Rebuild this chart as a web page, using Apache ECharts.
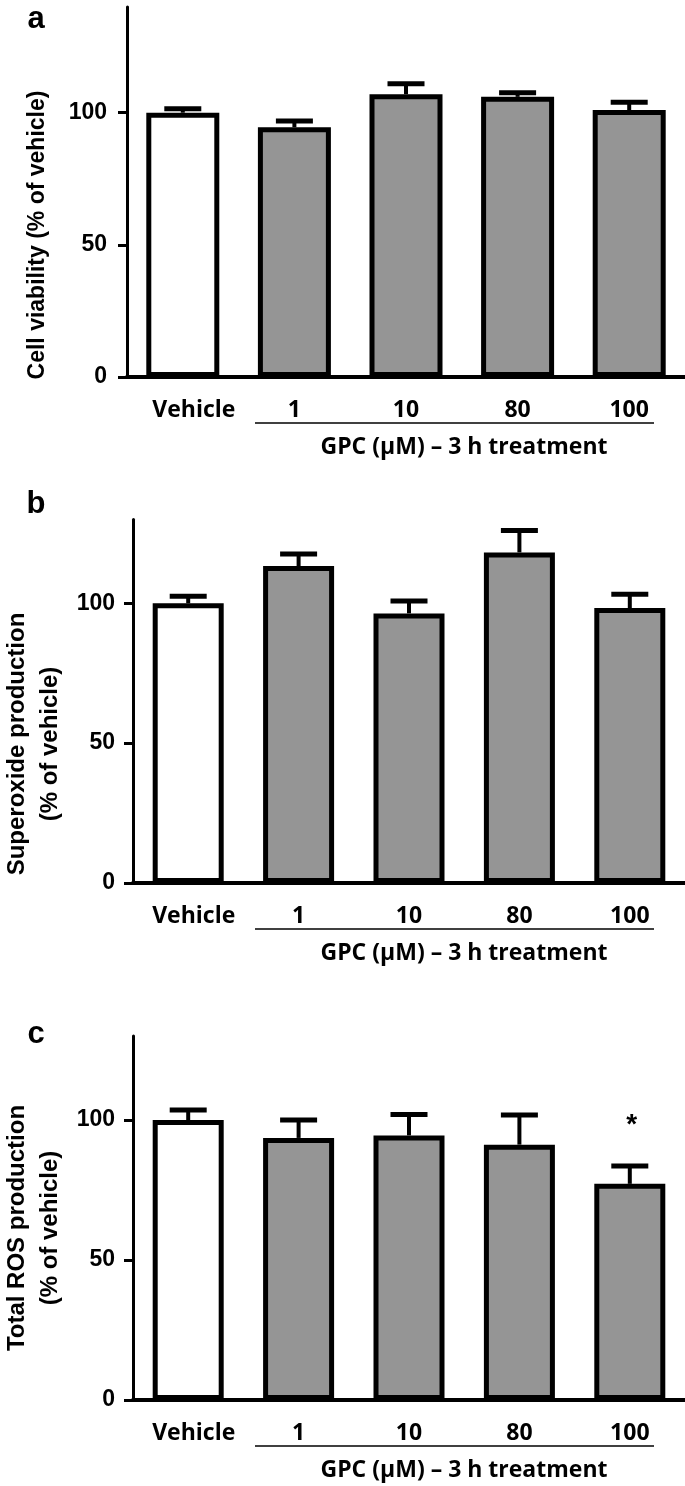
<!DOCTYPE html>
<html>
<head>
<meta charset="utf-8">
<script src="https://cdn.jsdelivr.net/npm/echarts@6/dist/echarts.min.js"></script>
<style>
  html, body { margin: 0; padding: 0; background: #fff; }
  #chart { width: 685px; height: 1486px; }
</style>
</head>
<body>
<div id="chart"></div>
<script>
// ---- data ----
const categories = ['Vehicle', '1', '10', '80', '100'];
const viabilityMean = [100, 94.5, 107, 106, 101];
const viabilityErr = [1.5, 2.4, 4, 1.6, 3];
const superoxideMean = [100, 113.3, 96.4, 118.2, 98.3];
const superoxideErr = [2.5, 4.3, 4.4, 7.8, 4.9];
const rosMean = [100, 93.6, 94.5, 91.2, 77.2];
const rosErr = [3.6, 6.4, 7.5, 10.6, 6.4];
const rosSignificance = ['', '', '', '', '*'];
const yTicks = [0, 50, 100];
const panelMax = [140, 130, 130];
const panelLetters = ['a', 'b', 'c'];
const panelTitles = ['Cell viability (% of vehicle)', 'Superoxide production\n(% of vehicle)', 'Total ROS production\n(% of vehicle)'];
const groupLabel = 'GPC (\u00b5M) \u2013 3 h treatment';

// ---- layout ----
const panels = [
  { left: 127, top: 7, width: 558, height: 370, barW: 73, labelMargin: 20, vehPad: 22,
    mean: viabilityMean, err: viabilityErr, sig: ['', '', '', '', ''],
    letterY: 35, titleX: 38, titleY: 235, titleSize: 23 },
  { left: 133, top: 519.4, width: 552, height: 363.6, barW: 71, labelMargin: 18, vehPad: 11,
    mean: superoxideMean, err: superoxideErr, sig: ['', '', '', '', ''],
    letterY: 520, titleX: 34, titleY: 744, titleSize: 24 },
  { left: 133, top: 1036, width: 552, height: 364, barW: 71, labelMargin: 18, vehPad: 11,
    mean: rosMean, err: rosErr, sig: rosSignificance,
    letterY: 1050, titleX: 34, titleY: 1228, titleSize: 24 }
];

const GRAY = '#959595';
const grids = [], xAxes = [], yAxes = [], series = [], graphics = [];

panels.forEach((p, k) => {
  grids.push({ left: p.left, top: p.top, width: p.width, height: p.height, containLabel: false });
  xAxes.push({
    type: 'category', gridIndex: k,
    data: categories.map((c, i) => i === 0
      ? { value: c, textStyle: { padding: [0, 0, 0, p.vehPad] } }
      : c),
    axisLine: { show: true, lineStyle: { color: '#000', width: 4 } },
    axisTick: { show: false },
    axisLabel: { color: '#000', fontFamily: 'Open Sans', fontWeight: 'bold', fontSize: 23, margin: 22, interval: 0 },
    splitLine: { show: false }
  });
  yAxes.push({
    type: 'value', gridIndex: k, min: 0, max: panelMax[k], interval: 50,
    axisLine: { show: true, lineStyle: { color: '#000', width: 3 } },
    axisTick: { show: true, length: 9, customValues: yTicks, lineStyle: { color: '#000', width: 3 } },
    axisLabel: { color: '#000', fontFamily: 'Liberation Sans', fontWeight: 'bold', fontSize: 23, margin: p.labelMargin,
      customValues: yTicks,
      formatter: function (v) { return yTicks.indexOf(v) >= 0 ? String(v) : ''; } },
    splitLine: { show: false }
  });
  series.push({
    type: 'bar', xAxisIndex: k, yAxisIndex: k, barWidth: p.barW,
    data: p.mean.map((v, i) => ({ value: v, itemStyle: { color: i === 0 ? '#fff' : GRAY } })),
    itemStyle: { borderColor: '#000', borderWidth: 5 },
    z: 2
  });
  const sig = p.sig;
  series.push({
    type: 'custom', xAxisIndex: k, yAxisIndex: k, clip: false, z: 3,
    data: p.mean.map((v, i) => [i, v, p.err[i]]),
    renderItem: function (params, api) {
      const i = api.value(0), m = api.value(1), e = api.value(2);
      const base = api.coord([i, m]);
      const top = api.coord([i, m + e]);
      const children = [
        { type: 'line', shape: { x1: base[0], y1: base[1], x2: top[0], y2: top[1] }, style: { stroke: '#000', lineWidth: 4 } },
        { type: 'line', shape: { x1: top[0] - 18.5, y1: top[1], x2: top[0] + 18.5, y2: top[1] }, style: { stroke: '#000', lineWidth: 5 } }
      ];
      if (sig[params.dataIndex]) {
        children.push({ type: 'text', style: { text: sig[params.dataIndex], x: top[0] + 2, y: top[1] - 41, textAlign: 'center', textVerticalAlign: 'middle', font: 'bold 28px "Liberation Sans"', fill: '#000' } });
      }
      return { type: 'group', children: children };
    }
  });
  const axisY = p.top + p.height;
  // panel letter
  graphics.push({ type: 'text', x: 36, y: p.letterY, style: { text: panelLetters[k], font: 'bold 31px "Liberation Sans"', fill: '#000', textAlign: 'center', textVerticalAlign: 'bottom' } });
  // y axis title
  graphics.push({ type: 'text', x: p.titleX, y: p.titleY, rotation: Math.PI / 2, style: { text: panelTitles[k], font: 'bold ' + p.titleSize + 'px "Liberation Sans"', lineHeight: 33, fill: '#000', textAlign: 'center', textVerticalAlign: 'middle' } });
  // group underline and label
  graphics.push({ type: 'line', shape: { x1: 255, y1: axisY + 46, x2: 654, y2: axisY + 46 }, style: { stroke: '#000', lineWidth: 1.5 } });
  graphics.push({ type: 'text', x: 464, y: axisY + 70, style: { text: groupLabel, font: 'bold 23px "Open Sans"', fill: '#000', textAlign: 'center', textVerticalAlign: 'middle' } });
});

const chart = echarts.init(document.getElementById('chart'), null, { renderer: 'canvas' });
chart.setOption({
  animation: false,
  backgroundColor: '#fff',
  grid: grids,
  xAxis: xAxes,
  yAxis: yAxes,
  series: series,
  graphic: graphics
});
</script>
</body>
</html>
